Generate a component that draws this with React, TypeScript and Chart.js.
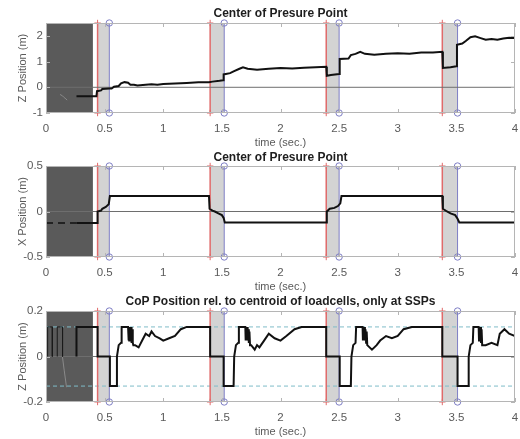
import React, { useEffect, useRef } from "react";
import { Chart, registerables } from "chart.js";

Chart.register(...registerables);

const FONT = "'Liberation Sans', Arial, Helvetica, sans-serif";

// ---------- shared data ----------
const X_TICKS = [0, 0.5, 1, 1.5, 2, 2.5, 3, 3.5, 4];
const INIT_PHASE = [0, 0.4];
const DSP_START = [0.44, 1.4, 2.39, 3.38];
const DSP_END = [0.54, 1.52, 2.5, 3.51];

// ---------- plot 1 : Z position ----------
const Z_TITLE = "Center of Presure Point";
const Z_YLABEL = "Z Position (m)";
const Z_RANGE = [-1, 2.5];
const Z_TICKS = [-1, 0, 1, 2];
const Z_PRE: [number, number][] = [
  [0.12, -0.28], [0.14, -0.33], [0.155, -0.4], [0.17, -0.45], [0.18, -0.5],
];
const Z_SERIES: [number, number][] = [
  [0.26, -0.35], [0.43, -0.35], [0.435, -0.15], [0.47, -0.12], [0.48, -0.07], [0.54, -0.05],
  [0.56, -0.05], [0.58, 0.02], [0.62, 0.05], [0.64, 0.15], [0.67, 0.2], [0.7, 0.18],
  [0.72, 0.1], [0.75, 0.1], [0.78, 0.07], [0.85, 0.1], [0.9, 0.12], [0.95, 0.1],
  [1.0, 0.13], [1.1, 0.15], [1.2, 0.17], [1.3, 0.2], [1.39, 0.2], [1.42, 0.22],
  [1.48, 0.25], [1.51, 0.27], [1.515, 0.5], [1.57, 0.55], [1.6, 0.62], [1.65, 0.72],
  [1.68, 0.78], [1.72, 0.72], [1.76, 0.7], [1.8, 0.68], [1.9, 0.72], [2.0, 0.75],
  [2.1, 0.73], [2.2, 0.76], [2.3, 0.78], [2.39, 0.8], [2.395, 0.45], [2.43, 0.48],
  [2.5, 0.52], [2.505, 1.1], [2.58, 1.12], [2.6, 1.25], [2.64, 1.3], [2.68, 1.38],
  [2.72, 1.3], [2.8, 1.27], [2.9, 1.3], [3.0, 1.32], [3.1, 1.3], [3.2, 1.35],
  [3.3, 1.35], [3.38, 1.38], [3.385, 0.75], [3.45, 0.78], [3.5, 0.82], [3.505, 1.65],
  [3.55, 1.7], [3.58, 1.8], [3.62, 1.95], [3.66, 1.98], [3.7, 1.92], [3.75, 1.85],
  [3.8, 1.88], [3.85, 1.85], [3.9, 1.9], [3.95, 1.93], [4.0, 1.92],
];

// ---------- plot 2 : X position ----------
const X_TITLE = "Center of Presure Point";
const X_YLABEL = "X Position (m)";
const X_RANGE = [-0.5, 0.5];
const X_YTICKS = [-0.5, 0, 0.5];
const X_PRE: [number, number][] = [[0, -0.125], [0.26, -0.125]];
const X_SERIES: [number, number][] = [
  [0.26, -0.125], [0.435, -0.125], [0.44, 0.0], [0.47, 0.01], [0.48, 0.03], [0.51, 0.05],
  [0.535, 0.08], [0.545, 0.17], [1.39, 0.17], [1.395, 0.03], [1.42, 0.01], [1.44, 0.0],
  [1.47, -0.02], [1.5, -0.04], [1.515, -0.07], [1.525, -0.12], [2.39, -0.12], [2.395, 0.0],
  [2.42, 0.03], [2.46, 0.04], [2.49, 0.06], [2.51, 0.09], [2.52, 0.17], [3.38, 0.17],
  [3.385, 0.03], [3.42, 0.0], [3.45, -0.02], [3.49, -0.04], [3.51, -0.08], [3.525, -0.12],
  [4.0, -0.12],
];

// ---------- plot 3 : CoP rel. to centroid ----------
const C_TITLE = "CoP Position rel. to centroid of loadcells, only at SSPs";
const C_YLABEL = "Z Position (m)";
const C_RANGE = [-0.2, 0.2];
const C_YTICKS = [-0.2, 0, 0.2];
const C_LIMITS = [0.13, -0.13];
const C_PRE: [number, number | null][] = [
  [0.014, 0], [0.014, 0.13], [0.054, 0.13], [0.054, 0], [0.075, null],
  [0.096, 0], [0.096, 0.13], [0.141, 0.13], [0.141, 0],
];
const C_PRE_SPIKE: [number, number][] = [[0.14, 0], [0.155, -0.06], [0.175, -0.135]];
const C_SERIES: [number, number][] = [
  [0.26, 0], [0.26, 0.13], [0.44, 0.13], [0.44, 0], [0.545, 0], [0.545, -0.13],
  [0.6, -0.13], [0.605, 0], [0.62, 0.05], [0.64, 0.06], [0.645, 0.13], [0.7, 0.13],
  [0.703, 0.07], [0.707, 0.13], [0.71, 0.07], [0.715, 0.13], [0.72, 0.07], [0.725, 0.13],
  [0.73, 0.06], [0.735, 0.12], [0.74, 0.06], [0.745, 0.05], [0.76, 0.05], [0.79, 0.04],
  [0.82, 0.07], [0.85, 0.1], [0.88, 0.09], [0.9, 0.11], [0.93, 0.09], [0.97, 0.08],
  [1.0, 0.07], [1.05, 0.08], [1.1, 0.09], [1.15, 0.12], [1.2, 0.13], [1.4, 0.13],
  [1.4, 0], [1.515, 0], [1.515, -0.13], [1.6, -0.13], [1.605, 0], [1.62, 0.05],
  [1.64, 0.06], [1.645, 0.13], [1.7, 0.13], [1.703, 0.07], [1.707, 0.13], [1.71, 0.07],
  [1.715, 0.13], [1.72, 0.07], [1.725, 0.12], [1.73, 0.06], [1.735, 0.11], [1.74, 0.05],
  [1.75, 0.05], [1.78, 0.03], [1.8, 0.05], [1.82, 0.04], [1.86, 0.07], [1.9, 0.1],
  [1.95, 0.08], [2.0, 0.07], [2.05, 0.09], [2.12, 0.12], [2.18, 0.13], [2.39, 0.13],
  [2.39, 0], [2.505, 0], [2.505, -0.13], [2.6, -0.13], [2.605, 0], [2.62, 0.05],
  [2.64, 0.06], [2.645, 0.13], [2.7, 0.13], [2.703, 0.07], [2.707, 0.13], [2.71, 0.07],
  [2.715, 0.13], [2.72, 0.07], [2.725, 0.12], [2.73, 0.06], [2.735, 0.11], [2.74, 0.05],
  [2.78, 0.03], [2.82, 0.05], [2.85, 0.07], [2.9, 0.09], [2.95, 0.08], [3.0, 0.09],
  [3.05, 0.12], [3.12, 0.13], [3.38, 0.13], [3.38, 0], [3.51, 0], [3.51, -0.13],
  [3.6, -0.13], [3.605, 0], [3.62, 0.05], [3.64, 0.06], [3.645, 0.13], [3.69, 0.13],
  [3.693, 0.07], [3.697, 0.13], [3.7, 0.07], [3.705, 0.13], [3.71, 0.06], [3.715, 0.12],
  [3.72, 0.05], [3.75, 0.05], [3.8, 0.06], [3.85, 0.05], [3.87, 0.1], [3.91, 0.12],
  [3.95, 0.1], [4.0, 0.09],
];

// ---------- styles ----------
const LINE = "#111111";
const ZERO = "#6e6e6e";
const DARK = "#5a5a5a";
const SHADE = "#d3d3d3";
const RED = "#e06a6a";
const BLUE = "#7d7dc4";
const TEAL = "#7fbcc8";
const BOX = "#b5b5b5";
const TEXT = "#5a5a5a";

type Pts = [number, number | null][];

const xy = (p: Pts) => p.map(([x, y]) => ({ x, y }));

function line(p: Pts, color: string, width: number, order: number, dash: number[] = []) {
  return {
    data: xy(p),
    borderColor: color,
    borderWidth: width,
    borderDash: dash,
    pointRadius: 0,
    fill: false,
    tension: 0,
    spanGaps: false,
    order,
  };
}

function band(x0: number, x1: number, yMax: number, color: string, order: number) {
  return {
    data: [{ x: x0, y: yMax }, { x: x1, y: yMax }],
    borderWidth: 0,
    borderColor: "rgba(0,0,0,0)",
    backgroundColor: color,
    pointRadius: 0,
    fill: "start",
    order,
  };
}

function eventLine(x: number, yMin: number, yMax: number, color: string, style: string, width: number) {
  return {
    data: [{ x, y: yMin }, { x, y: yMax }],
    borderColor: color,
    borderWidth: width,
    pointStyle: style,
    pointRadius: 3.2,
    pointBorderColor: color,
    pointBorderWidth: 1,
    pointBackgroundColor: "rgba(0,0,0,0)",
    fill: false,
    clip: false,
    order: 3,
  };
}

const boxPlugin = {
  id: "matlabBox",
  afterDatasetsDraw(chart: any) {
    const { ctx, chartArea: a, scales } = chart;
    ctx.save();
    ctx.strokeStyle = BOX;
    ctx.lineWidth = 1;
    ctx.strokeRect(a.left + 0.5, a.top + 0.5, a.right - a.left - 1, a.bottom - a.top - 1);
    ctx.beginPath();
    scales.x.ticks.forEach((t: any) => {
      const px = Math.round(scales.x.getPixelForValue(t.value)) + 0.5;
      ctx.moveTo(px, a.top);
      ctx.lineTo(px, a.top + 4);
      ctx.moveTo(px, a.bottom);
      ctx.lineTo(px, a.bottom - 4);
    });
    scales.y.ticks.forEach((t: any) => {
      const py = Math.round(scales.y.getPixelForValue(t.value)) + 0.5;
      ctx.moveTo(a.left, py);
      ctx.lineTo(a.left + 4, py);
      ctx.moveTo(a.right, py);
      ctx.lineTo(a.right - 4, py);
    });
    ctx.stroke();
    ctx.restore();
  },
};

interface Spec {
  title: string;
  yLabel: string;
  range: number[];
  yTicks: number[];
  extra: any[];
  height: number;
  titlePad: { top: number; bottom: number };
  xScaleH: number;
  xTitlePad: number;
}

function buildConfig(s: Spec) {
  const [yMin, yMax] = s.range;
  const datasets: any[] = [...s.extra];
  datasets.push(line([[0, 0], [4, 0]], ZERO, 1, 2));
  DSP_START.forEach((x) => datasets.push(eventLine(x, yMin, yMax, RED, "cross", 1.5)));
  DSP_END.forEach((x) => datasets.push(eventLine(x, yMin, yMax, BLUE, "circle", 1)));
  DSP_START.forEach((x, i) => datasets.push(band(x, DSP_END[i], yMax, SHADE, 5)));
  datasets.push(band(INIT_PHASE[0], INIT_PHASE[1], yMax, DARK, 6));

  return {
    type: "line",
    data: { datasets },
    options: {
      responsive: false,
      animation: false,
      devicePixelRatio: 1,
      events: [],
      layout: { padding: 0 },
      plugins: {
        legend: { display: false },
        tooltip: { enabled: false },
        title: {
          display: true,
          fullSize: false,
          text: s.title,
          color: "#1e1e1e",
          font: { family: FONT, size: 12, weight: "bold", lineHeight: 1.2 },
          padding: s.titlePad,
        },
      },
      scales: {
        x: {
          type: "linear",
          min: 0,
          max: 4,
          afterBuildTicks: (sc: any) => {
            sc.ticks = X_TICKS.map((v) => ({ value: v }));
          },
          afterFit: (sc: any) => {
            sc.height = s.xScaleH;
          },
          ticks: {
            padding: 0,
            color: TEXT,
            font: { family: FONT, size: 11.5 },
            maxRotation: 0,
            autoSkip: false,
            callback: (v: number) => String(v),
          },
          grid: { display: false, drawTicks: true, tickLength: 9 },
          border: { display: false },
          title: {
            display: true,
            text: "time (sec.)",
            color: TEXT,
            font: { family: FONT, size: 11, lineHeight: 1.2 },
            padding: { top: 0, bottom: s.xTitlePad },
          },
        },
        y: {
          type: "linear",
          min: yMin,
          max: yMax,
          afterBuildTicks: (sc: any) => {
            sc.ticks = s.yTicks.map((v) => ({ value: v }));
          },
          afterFit: (sc: any) => {
            sc.width = 46;
          },
          ticks: {
            padding: 3,
            color: TEXT,
            font: { family: FONT, size: 11.5 },
            callback: (v: number) => String(v),
          },
          grid: { display: false, drawTicks: false },
          border: { display: false },
          title: {
            display: true,
            text: s.yLabel,
            color: TEXT,
            font: { family: FONT, size: 11, lineHeight: 1.2 },
            padding: { top: 16, bottom: 0 },
          },
        },
      },
    },
    plugins: [boxPlugin],
  };
}

function Plot({ spec, top }: { spec: Spec; top: number }) {
  const ref = useRef<HTMLCanvasElement | null>(null);
  useEffect(() => {
    if (!ref.current) return;
    const chart = new Chart(ref.current, buildConfig(spec) as any);
    return () => chart.destroy();
  }, [spec]);
  return (
    <div style={{ position: "absolute", left: 0, top, width: 520, height: spec.height }}>
      <canvas ref={ref} width={520} height={spec.height} style={{ display: "block" }} />
    </div>
  );
}

const SPEC_Z: Spec = {
  title: Z_TITLE,
  yLabel: Z_YLABEL,
  range: Z_RANGE,
  yTicks: Z_TICKS,
  extra: [line(Z_SERIES, LINE, 2, 0), line(Z_PRE, "#8a8a8a", 1, 1)],
  height: 148,
  titlePad: { top: 6.8, bottom: 1.8 },
  xScaleH: 35,
  xTitlePad: -1.5,
};

const SPEC_X: Spec = {
  title: X_TITLE,
  yLabel: X_YLABEL,
  range: X_RANGE,
  yTicks: X_YTICKS,
  extra: [line(X_SERIES, LINE, 2, 0), line(X_PRE, LINE, 1.5, 1, [7, 5])],
  height: 144,
  titlePad: { top: 2.8, bottom: 0.8 },
  xScaleH: 35,
  xTitlePad: -1.5,
};

const SPEC_C: Spec = {
  title: C_TITLE,
  yLabel: C_YLABEL,
  range: C_RANGE,
  yTicks: C_YTICKS,
  extra: [
    line(C_SERIES, LINE, 2, 0),
    line(C_PRE, "#1a1a1a", 1, 1),
    line(C_PRE_SPIKE, "#8a8a8a", 1, 1),
    line([[0, C_LIMITS[0]], [4, C_LIMITS[0]]], TEAL, 1, 4, [4, 3]),
    line([[0, C_LIMITS[1]], [4, C_LIMITS[1]]], TEAL, 1, 4, [4, 3]),
  ],
  height: 147,
  titlePad: { top: 2.8, bottom: 1.8 },
  xScaleH: 37,
  xTitlePad: 0.5,
};

export default function App() {
  return (
    <div style={{ position: "absolute", left: 0, top: 0, width: 520, height: 439, background: "#fff" }}>
      <Plot spec={SPEC_Z} top={0} />
      <Plot spec={SPEC_X} top={148} />
      <Plot spec={SPEC_C} top={292} />
    </div>
  );
}
